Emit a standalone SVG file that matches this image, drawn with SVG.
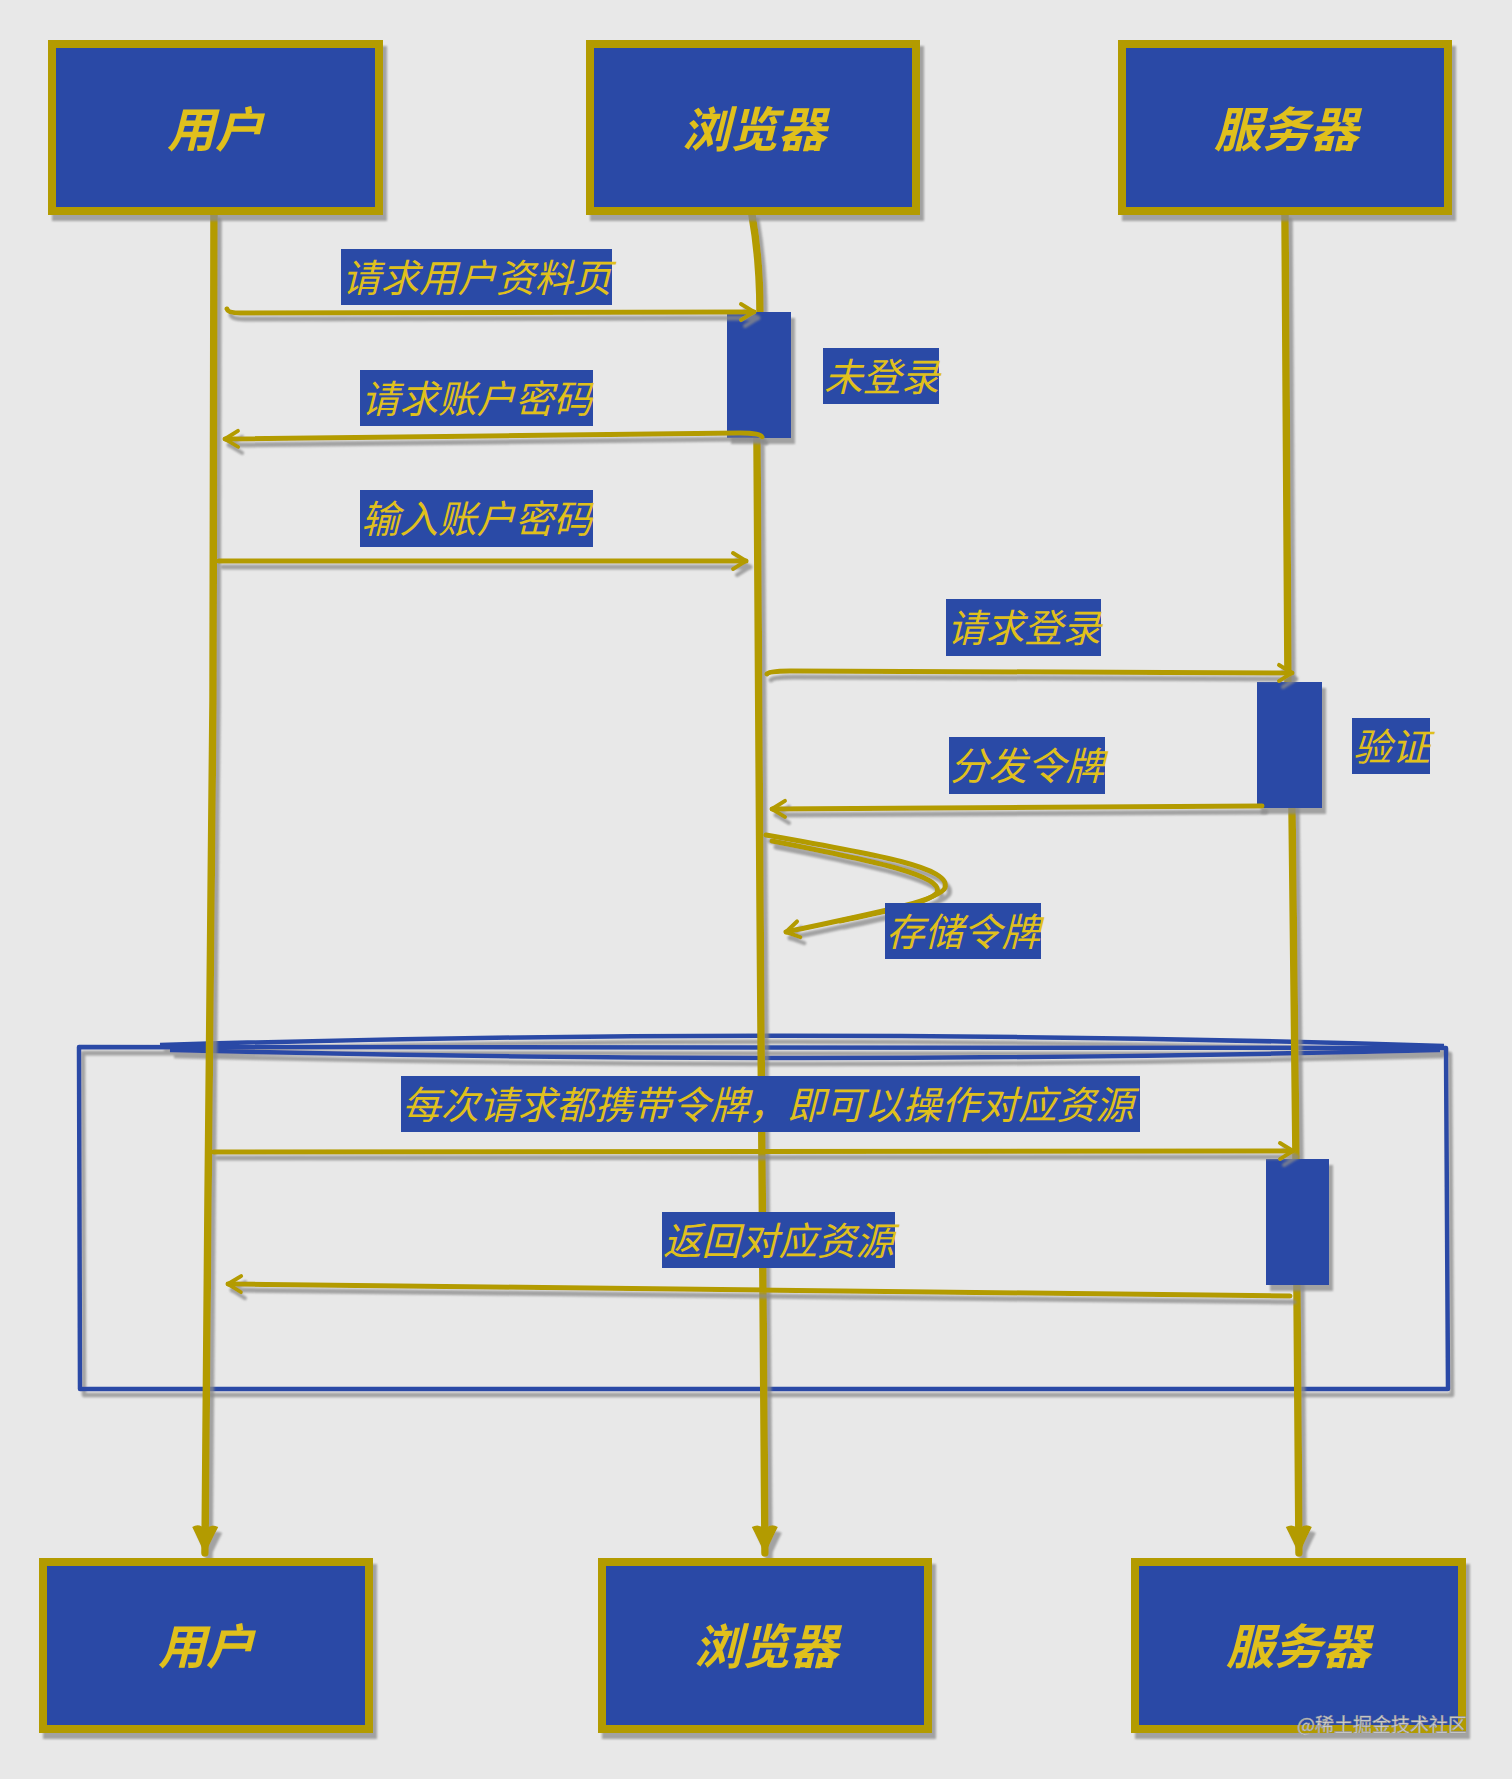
<svg xmlns="http://www.w3.org/2000/svg" width="1512" height="1779" viewBox="0 0 1512 1779">
<defs>
<filter id="sh" x="-10%" y="-10%" width="130%" height="130%">
<feDropShadow dx="4" dy="6" stdDeviation="1.2" flood-color="#8a8a8a" flood-opacity="0.75"/>
</filter>
<marker id="oh" viewBox="-18 -12 22 24" refX="0" refY="0" markerWidth="22" markerHeight="24" markerUnits="userSpaceOnUse" orient="auto">
<path d="M-13,-8 L0,0 L-13,8" fill="none" stroke="#b39b00" stroke-width="4" stroke-linecap="round" stroke-linejoin="round"/>
</marker>
<marker id="lh" viewBox="-32 -17 36 34" refX="0" refY="0" markerWidth="36" markerHeight="34" markerUnits="userSpaceOnUse" orient="auto">
<path d="M2,0 Q-10,-5 -26,-13 Q-30,-6 -24,0 Q-30,6 -26,13 Q-10,5 2,0 Z" fill="#b39b00"/>
</marker>
<style>
.bg{fill:#e8e8e8}
.node rect.b{fill:#2a4aa6;stroke:#b39b00;stroke-width:8}
.node text{font-family:"Noto Sans CJK SC","Noto Sans",sans-serif;font-weight:700;font-style:italic;font-size:48px;fill:#e0c01c;text-anchor:middle}
.act{fill:#2a4aa6}
.lbl rect{fill:#2a4aa6}
.lbl text{font-family:"Noto Sans CJK SC","Noto Sans",sans-serif;font-style:italic;font-size:38.5px;fill:#e0c01c}
.life{fill:none;stroke:#b39b00;stroke-width:7.5;stroke-linecap:round}
.msg{fill:none;stroke:#b39b00;stroke-width:5;stroke-linecap:round}
.frame{fill:none;stroke:#2a4aa6;stroke-width:4.5;stroke-linejoin:round}
.wm{font-family:"Noto Sans CJK SC","Noto Sans",sans-serif;font-size:19px;fill:#d6d6d6;stroke:#9a9a9a;stroke-width:0.6;text-anchor:end}
</style>
</defs>
<rect class="bg" x="0" y="0" width="1512" height="1779"/>

<g id="loop-frame" filter="url(#sh)">
<path class="frame" d="M79,1047 L1446,1048 L1448,1389 L80,1389 Z"/>
<path class="frame" d="M160,1045 Q800,1026 1444,1046"/>
<path class="frame" d="M170,1050 Q800,1066 1440,1050" stroke-width="4"/>
</g>

<g id="lifelines" filter="url(#sh)">
<path class="life" d="M214,215 L213,700 L208,1200 L205,1553" marker-end="url(#lh)"/>
<path class="life" d="M752,215 Q760,260 760,313 L757,440 L760,900 L765,1553" marker-end="url(#lh)"/>
<path class="life" d="M1285,215 L1288,682 L1292,808 L1296,1159 L1299,1553" marker-end="url(#lh)"/>
</g>

<g id="activation-browser" filter="url(#sh)">
<rect class="act" x="727" y="312" width="64" height="126"/>
</g>
<g id="activation-server-1" filter="url(#sh)">
<rect class="act" x="1257" y="682" width="65" height="126"/>
</g>
<g id="activation-server-2" filter="url(#sh)">
<rect class="act" x="1266" y="1159" width="63" height="126"/>
</g>

<g id="connectors" filter="url(#sh)">
<path class="msg" d="M227,309 Q228,313 240,313 L754,312" marker-end="url(#oh)"/>
<path class="msg" d="M762,437 Q760,433 740,433 L225,439" marker-end="url(#oh)"/>
<path class="msg" d="M219,561 L746,561" marker-end="url(#oh)"/>
<path class="msg" d="M767,674 Q768,671 790,671 L1292,673" marker-end="url(#oh)"/>
<path class="msg" d="M1262,806 L772,809" marker-end="url(#oh)"/>
<path class="msg" d="M766,835 C880,855 952,868 945,888 C938,902 860,916 786,932" marker-end="url(#oh)" stroke-width="4.5"/>
<path class="msg" d="M772,841 C880,862 944,876 937,893 C925,905 880,912 840,921" stroke-width="3.5"/>
<path class="msg" d="M214,1152 L1293,1151" marker-end="url(#oh)" stroke-width="6"/>
<path class="msg" d="M1290,1296 L228,1284" marker-end="url(#oh)"/>
</g>

<g id="label-1" class="lbl"><rect x="341" y="249" width="271" height="56"/><text x="342" y="292">请求用户资料页</text></g>
<g id="label-2" class="lbl"><rect x="360" y="370" width="233" height="56"/><text x="361" y="413">请求账户密码</text></g>
<g id="label-3" class="lbl"><rect x="360" y="490" width="233" height="57"/><text x="361" y="533">输入账户密码</text></g>
<g id="label-4" class="lbl"><rect x="823" y="348" width="116" height="56"/><text x="824" y="391">未登录</text></g>
<g id="label-5" class="lbl"><rect x="946" y="599" width="155" height="57"/><text x="947" y="642">请求登录</text></g>
<g id="label-6" class="lbl"><rect x="1352" y="718" width="78" height="56"/><text x="1353" y="761">验证</text></g>
<g id="label-7" class="lbl"><rect x="949" y="737" width="156" height="57"/><text x="950" y="780">分发令牌</text></g>
<g id="label-8" class="lbl"><rect x="885" y="903" width="156" height="56"/><text x="886" y="946">存储令牌</text></g>
<g id="label-9" class="lbl"><rect x="401" y="1076" width="739" height="56"/><text x="402" y="1119">每次请求都携带令牌，即可以操作对应资源</text></g>
<g id="label-10" class="lbl"><rect x="662" y="1212" width="233" height="56"/><text x="663" y="1255">返回对应资源</text></g>

<g id="node-user-top" class="node" filter="url(#sh)"><rect class="b" x="52" y="44" width="327" height="167"/><text x="215" y="147">用户</text></g>
<g id="node-browser-top" class="node" filter="url(#sh)"><rect class="b" x="590" y="44" width="326" height="167"/><text x="754" y="147">浏览器</text></g>
<g id="node-server-top" class="node" filter="url(#sh)"><rect class="b" x="1122" y="44" width="326" height="167"/><text x="1286" y="147">服务器</text></g>
<g id="node-user-bottom" class="node" filter="url(#sh)"><rect class="b" x="43" y="1562" width="326" height="167"/><text x="206" y="1664">用户</text></g>
<g id="node-browser-bottom" class="node" filter="url(#sh)"><rect class="b" x="602" y="1562" width="326" height="167"/><text x="766" y="1664">浏览器</text></g>
<g id="node-server-bottom" class="node" filter="url(#sh)"><rect class="b" x="1135" y="1562" width="327" height="167"/><text x="1298" y="1664">服务器</text></g>

<text class="wm" x="1467" y="1732">@稀土掘金技术社区</text>
</svg>
